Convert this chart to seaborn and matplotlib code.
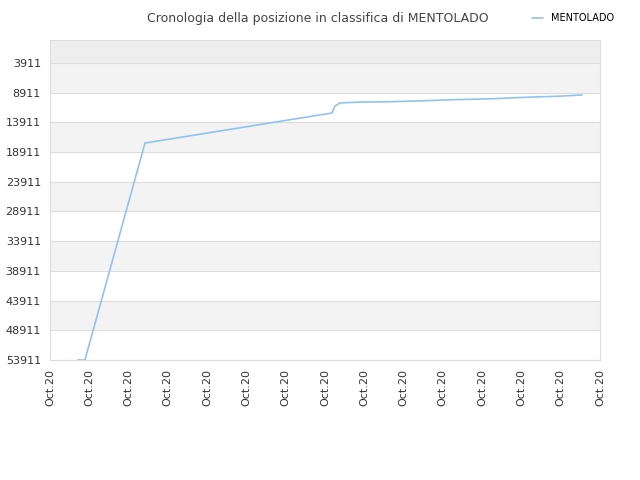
import matplotlib
matplotlib.use("Agg")
import matplotlib.pyplot as plt
import seaborn as sns
import pandas as pd

# line vertices (x in tick units, y = rank)
x_pos = [0.71, 0.89, 2.42, 7.18, 7.25, 7.38, 7.89, 8.6, 9.4, 10.3, 11.2, 12.1, 13.0, 13.54]
rank = [53911, 53911, 17393, 12337, 11200, 10652, 10500, 10450, 10300, 10100, 9950, 9700, 9500, 9304]
tick_values = [3911, 8911, 13911, 18911, 23911, 28911, 33911, 38911, 43911, 48911, 53911]
x_labels = ["Oct.20"] * 15

sns.set_style("white")
fig, ax = plt.subplots(figsize=(6.4, 4.8), dpi=100)
fig.subplots_adjust(left=0.078, right=0.9375, top=0.917, bottom=0.25)

top = 26
ax.axhspan(top, 3911, color="#eeeeee", zorder=0)
for i in range(len(tick_values) - 1):
    col = "#f3f3f3" if i % 2 == 0 else "white"
    ax.axhspan(tick_values[i], tick_values[i + 1], color=col, zorder=0)
for v in tick_values:
    ax.axhline(v, color="#dddddd", lw=0.8, zorder=1)

df = pd.DataFrame({"x": x_pos, "rank": rank})
sns.lineplot(data=df, x="x", y="rank", ax=ax, color="#90c3f0", lw=1.2,
             label="MENTOLADO", zorder=3)

ax.set_ylim(53911, top)
ax.set_xlim(0, 14)
ax.set_yticks(tick_values)
ax.set_yticklabels([str(v) for v in tick_values], fontsize=8, color="#333333")
ax.set_xticks(range(15))
ax.set_xticklabels(x_labels, rotation=90, fontsize=8, color="#333333")
ax.set_xlabel("")
ax.set_ylabel("")
for s in ax.spines.values():
    s.set_color("#dddddd")
ax.tick_params(length=3, color="#cccccc")

leg = ax.legend(loc="upper left", bbox_to_anchor=(0.86, 1.11), frameon=False, fontsize=7,
                handlelength=1.2)
for t in leg.get_texts():
    t.set_color("#000000")
fig.text(0.497, 0.975, "Cronologia della posizione in classifica di MENTOLADO",
         ha="center", va="top", fontsize=9, color="#444444")
fig.savefig("out.png", dpi=100)
